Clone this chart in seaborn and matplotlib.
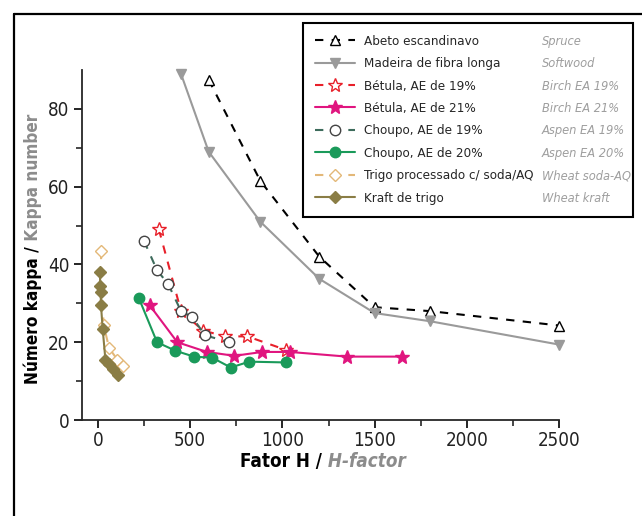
import matplotlib
matplotlib.use('Agg')

import matplotlib.pyplot as plt
import numpy as np
import pandas as pd
import seaborn as sns
from matplotlib.lines import Line2D


# Fator H (x) e número kappa (y)
spruce_h = [600, 880, 1200, 1500, 1800, 2500]
spruce_k = [87.5, 61.5, 42.0, 29.0, 28.0, 24.3]

softwood_h = [450, 600, 880, 1200, 1500, 1800, 2500]
softwood_k = [89.0, 69.0, 51.0, 36.3, 27.5, 25.4, 19.4]

birch19_h = [330, 450, 570, 690, 810, 1020]
birch19_k = [49.0, 28.0, 23.0, 21.5, 21.5, 18.0]

birch21_h = [280, 430, 590, 740, 890, 1040, 1350, 1650]
birch21_k = [29.5, 20.0, 17.5, 16.5, 17.5, 17.5, 16.3, 16.3]

aspen19_h = [250, 320, 380, 450, 510, 580, 710]
aspen19_k = [46.0, 38.5, 35.0, 28.0, 26.5, 21.8, 20.0]

aspen20_h = [220, 320, 420, 520, 620, 720, 820, 1020]
aspen20_k = [31.5, 20.0, 17.8, 16.3, 16.0, 13.5, 15.0, 14.8]

wheat_soda_h = [15, 30, 60, 105, 135]
wheat_soda_k = [43.5, 24.5, 18.5, 15.5, 14.0]

wheat_kraft_h = [10, 12, 14, 16, 25, 40, 60, 80, 110]
wheat_kraft_k = [38.0, 34.5, 33.0, 29.5, 23.5, 15.5, 14.5, 13.2, 11.5]

labels_pt = ['Abeto escandinavo', 'Madeira de fibra longa', 'Bétula, AE de 19%',
             'Bétula, AE de 21%', 'Choupo, AE de 19%', 'Choupo, AE de 20%',
             'Trigo processado c/ soda/AQ', 'Kraft de trigo']
labels_en = ['Spruce', 'Softwood', 'Birch EA 19%', 'Birch EA 21%',
             'Aspen EA 19%', 'Aspen EA 20%', 'Wheat soda-AQ', 'Wheat kraft']

sns.set_style('ticks')
plt.rcParams['font.family'] = ['DejaVu Sans']
plt.rcParams['font.stretch'] = 'condensed'
GREY = '#8c8c8c'

series = [
    (spruce_h, spruce_k, dict(color='black', linestyle=(0, (4, 4)), marker='^',
                              markerfacecolor='white', markeredgecolor='black')),
    (softwood_h, softwood_k, dict(color='#9a9a9a', linestyle='-', marker='v',
                                  markerfacecolor='#9a9a9a', markeredgecolor='#9a9a9a')),
    (birch19_h, birch19_k, dict(color='#e8202a', linestyle=(0, (4, 4)), marker='*',
                                markerfacecolor='white', markeredgecolor='#e8202a')),
    (birch21_h, birch21_k, dict(color='#e0157f', linestyle='-', marker='*',
                                markerfacecolor='#e0157f', markeredgecolor='#e0157f')),
    (aspen19_h, aspen19_k, dict(color='#3d6b5c', linestyle=(0, (4, 4)), marker='o',
                                markerfacecolor='white', markeredgecolor='#444444')),
    (aspen20_h, aspen20_k, dict(color='#1a9a5a', linestyle='-', marker='o',
                                markerfacecolor='#1a9a5a', markeredgecolor='#1a9a5a')),
    (wheat_soda_h, wheat_soda_k, dict(color='#e3b878', linestyle=(0, (4, 4)), marker='D',
                                      markerfacecolor='white', markeredgecolor='#e3b878')),
    (wheat_kraft_h, wheat_kraft_k, dict(color='#8a7d45', linestyle='-', marker='D',
                                        markerfacecolor='#8a7d45', markeredgecolor='#8a7d45')),
]
msizes = [7, 7, 10, 10, 7.5, 7.5, 6, 6]

fig = plt.figure(figsize=(6.42, 5.16), dpi=100)
ax = fig.add_axes([82 / 642, 1 - 420 / 516, (559 - 82) / 642, (420 - 70) / 516])

for (h, k, style), lab, ms in zip(series, labels_pt, msizes):
    df = pd.DataFrame({'H': h, 'K': k})
    sns.lineplot(data=df, x='H', y='K', sort=False, estimator=None, ax=ax,
                 label=lab, linewidth=1.5, markersize=ms, markeredgewidth=1.0,
                 clip_on=False, **style)

ax.set_xlim(-87, 2500)
ax.set_ylim(0, 90)
ax.set_xticks(np.arange(0, 2501, 500))
ax.set_xticks(np.arange(250, 2500, 500), minor=True)
ax.set_yticks(np.arange(0, 81, 20))
ax.set_yticks(np.arange(10, 90, 20), minor=True)
ax.tick_params(which='major', direction='out', length=6, width=1.2, labelsize=13.5,
               colors='black', labelcolor='#222222')
ax.tick_params(which='minor', direction='out', length=4, width=1.2)
ax.tick_params(axis='x', pad=2)
ax.tick_params(axis='y', pad=3)
sns.despine(ax=ax)
for s in ['left', 'bottom']:
    ax.spines[s].set_linewidth(1.3)
ax.set_xlabel('')
ax.set_ylabel('')

leg = ax.legend(loc='upper left',
                bbox_to_anchor=(303 / 642, 1 - 23 / 516 - 0.01, 330 / 642, 0.01),
                bbox_transform=fig.transFigure, mode='expand', frameon=True, fancybox=False,
                edgecolor='black', framealpha=1, fontsize=9.6, handlelength=3.0,
                handletextpad=0.7, labelspacing=0.705, borderpad=0.89, borderaxespad=0)
leg.get_frame().set_linewidth(1.5)

# rótulos dos eixos em duas cores
t1 = fig.text(240 / 642, 1 - 467 / 516, 'Fator H /', fontsize=13.5, fontweight='bold',
              color='black', ha='left', va='baseline')
ax.annotate(' H-factor', xy=(1, 0), xycoords=t1, va='bottom', ha='left', fontsize=13.5,
            fontweight='bold', style='italic', color=GREY, annotation_clip=False)
y1 = fig.text(24 / 642, 1 - 384 / 516, 'Número kappa /', fontsize=12.3, fontweight='bold',
              color='black', rotation=90, ha='left', va='bottom')
ax.annotate(' Kappa number', xy=(0, 1), xycoords=y1, va='bottom', ha='left', rotation=90,
            fontsize=12.3, fontweight='bold', color=GREY, annotation_clip=False)

# moldura externa
fig.add_artist(Line2D([14 / 642, 14 / 642], [0, 1 - 14 / 516], color='black', lw=1.6))
fig.add_artist(Line2D([14 / 642, 1], [1 - 14 / 516, 1 - 14 / 516], color='black', lw=1.6))

fig.canvas.draw()
inv = fig.transFigure.inverted()
for txt, en in zip(leg.get_texts(), labels_en):
    bb = txt.get_window_extent()
    yc = inv.transform((0, (bb.y0 + bb.y1) / 2))[1]
    fig.text(542 / 642, yc, en, fontsize=9.2, style='italic', color='#9e9e9e', va='center')

fig.savefig('out.png', dpi=100)
